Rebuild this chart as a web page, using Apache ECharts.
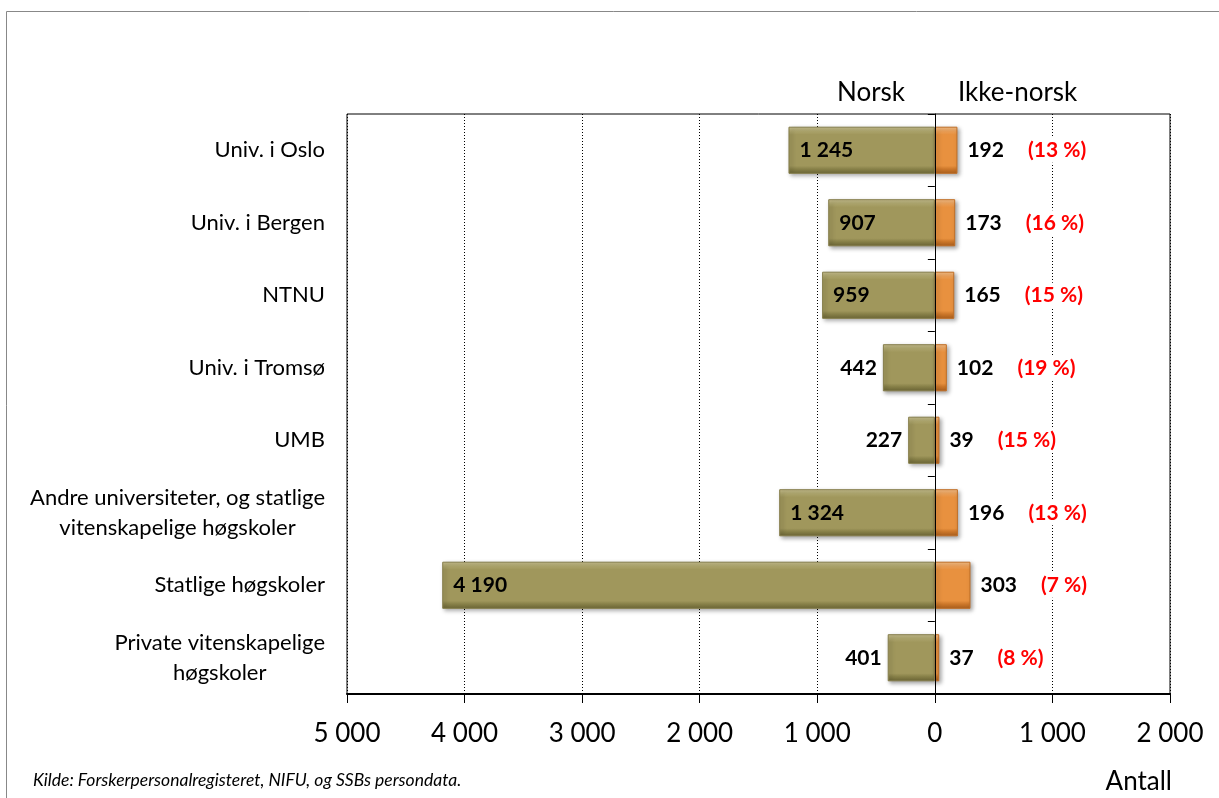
<!DOCTYPE html>
<html lang="no">
<head>
<meta charset="utf-8">
<title>Forskere etter statsborgerskap</title>
<script src="https://cdn.jsdelivr.net/npm/echarts@6/dist/echarts.min.js"></script>
<style>
  html, body { margin: 0; padding: 0; background: #fff; }
  #chart { width: 1219px; height: 798px; }
</style>
</head>
<body>
<div id="chart"></div>
<script>
// data
var categories = [
  'Univ. i Oslo',
  'Univ. i Bergen',
  'NTNU',
  'Univ. i Tromsø',
  'UMB',
  'Andre universiteter, og statlige\nvitenskapelige høgskoler',
  'Statlige høgskoler',
  'Private vitenskapelige\nhøgskoler'
];
var norsk = [1245, 907, 959, 442, 227, 1324, 4190, 401];
var ikkeNorsk = [192, 173, 165, 102, 39, 196, 303, 37];
var xMin = -5000, xMax = 2000, xStep = 1000;

var FONT = 'Lato';

function fmt(n) {
  return String(Math.abs(n)).replace(/\B(?=(\d{3})+(?!\d))/g, ' ');
}

// andel ikke-norsk i prosent
function pct(i) {
  return Math.round(ikkeNorsk[i] / (norsk[i] + ikkeNorsk[i]) * 100);
}

var olive = new echarts.graphic.LinearGradient(0, 0, 0, 1, [
  {offset: 0, color: '#c8c090'},
  {offset: 0.1, color: '#b0a86e'},
  {offset: 0.17, color: '#a0975c'},
  {offset: 0.83, color: '#a0975c'},
  {offset: 0.9, color: '#878048'},
  {offset: 1, color: '#6c6636'}
]);
var orange = new echarts.graphic.LinearGradient(0, 0, 0, 1, [
  {offset: 0, color: '#f9c28a'},
  {offset: 0.1, color: '#f0a258'},
  {offset: 0.17, color: '#e8913f'},
  {offset: 0.83, color: '#e8913f'},
  {offset: 0.9, color: '#cc772a'},
  {offset: 1, color: '#aa5f1d'}
]);

var norskData = norsk.map(function (v) {
  return {
    value: -v,
    label: v > 600
      ? {position: 'insideLeft', distance: 11}
      : {position: 'left', distance: 6}
  };
});

var chart = echarts.init(document.getElementById('chart'));

chart.setOption({
  backgroundColor: '#fff',
  animation: false,
  textStyle: {fontFamily: FONT},
  grid: {
    left: 347, right: 49, top: 114, bottom: 104,
    show: true, borderColor: '#000', borderWidth: 1
  },
  xAxis: {
    type: 'value',
    min: xMin, max: xMax, interval: xStep,
    axisLine: {show: true, lineStyle: {color: '#000', width: 2}},
    axisTick: {show: true, length: 9, lineStyle: {color: '#000'}},
    splitLine: {show: true, lineStyle: {color: '#000', type: [1, 2], width: 1}},
    axisLabel: {
      fontFamily: FONT, fontSize: 26, color: '#000', margin: 27,
      formatter: function (v) { return fmt(v); }
    }
  },
  yAxis: [{
    type: 'category',
    data: categories,
    inverse: true,
    axisLine: {show: false, onZero: false},
    axisTick: {show: false},
    axisLabel: {
      fontFamily: FONT, fontSize: 22, color: '#000', margin: 22,
      formatter: function (v) {
        return v.split('\n').map(function (s) { return '{m|' + s + '}'; }).join('\n');
      },
      rich: {
        m: {fontFamily: FONT, fontSize: 22, color: '#000', align: 'center', lineHeight: 30}
      }
    }
  }, {
    // linja ved null med små streker
    type: 'category',
    data: categories,
    inverse: true,
    position: 'left',
    z: 5,
    axisLine: {show: true, onZero: true, lineStyle: {color: '#000', width: 1}},
    axisTick: {show: true, length: 7, lineStyle: {color: '#000'}},
    axisLabel: {show: false}
  }],
  series: [{
    name: 'Norsk',
    type: 'bar',
    stack: 'tot',
    barCategoryGap: '35%',
    data: norskData,
    itemStyle: {
      color: olive, borderColor: '#857d4a', borderWidth: 1,
      shadowColor: 'rgba(0,0,0,0.35)', shadowBlur: 4, shadowOffsetX: 2, shadowOffsetY: 2
    },
    label: {
      show: true,
      fontFamily: FONT, fontSize: 21, fontWeight: 'bold', color: '#000',
      formatter: function (p) { return fmt(p.value); }
    }
  }, {
    name: 'Ikke-norsk',
    type: 'bar',
    stack: 'tot',
    barCategoryGap: '35%',
    data: ikkeNorsk,
    itemStyle: {
      color: orange, borderColor: '#c06e25', borderWidth: 1,
      shadowColor: 'rgba(0,0,0,0.35)', shadowBlur: 4, shadowOffsetX: 2, shadowOffsetY: 2
    },
    label: {
      show: true,
      position: 'right',
      distance: 10,
      formatter: function (p) {
        return '{v|' + fmt(p.value) + '}{g|}{p|(' + pct(p.dataIndex) + ' %)}';
      },
      rich: {
        v: {fontFamily: FONT, fontSize: 21, fontWeight: 'bold', color: '#000'},
        g: {width: 22},
        p: {fontFamily: FONT, fontSize: 21, fontWeight: 'bold', color: '#ff0000',
            backgroundColor: '#fff', padding: [2, 2]}
      }
    }
  }],
  graphic: [{
    type: 'rect',
    shape: {x: 6.5, y: 11.5, width: 1400, height: 1000},
    style: {fill: 'none', stroke: '#888', lineWidth: 1},
    silent: true
  }, {
    type: 'text', x: 905, y: 93,
    style: {text: 'Norsk', fontFamily: FONT, fontSize: 26, fill: '#000',
            textAlign: 'right', textVerticalAlign: 'middle'}
  }, {
    type: 'text', x: 958, y: 93,
    style: {text: 'Ikke-norsk', fontFamily: FONT, fontSize: 26, fill: '#000',
            textAlign: 'left', textVerticalAlign: 'middle'}
  }, {
    type: 'text', x: 33, y: 780,
    style: {text: 'Kilde: Forskerpersonalregisteret, NIFU, og SSBs persondata.',
            fontFamily: FONT, fontSize: 17.5, fontStyle: 'italic', fill: '#000',
            textAlign: 'left', textVerticalAlign: 'middle'}
  }, {
    type: 'text', x: 1172, y: 782,
    style: {text: 'Antall', fontFamily: FONT, fontSize: 26, fill: '#000',
            textAlign: 'right', textVerticalAlign: 'middle'}
  }]
});
</script>
</body>
</html>
